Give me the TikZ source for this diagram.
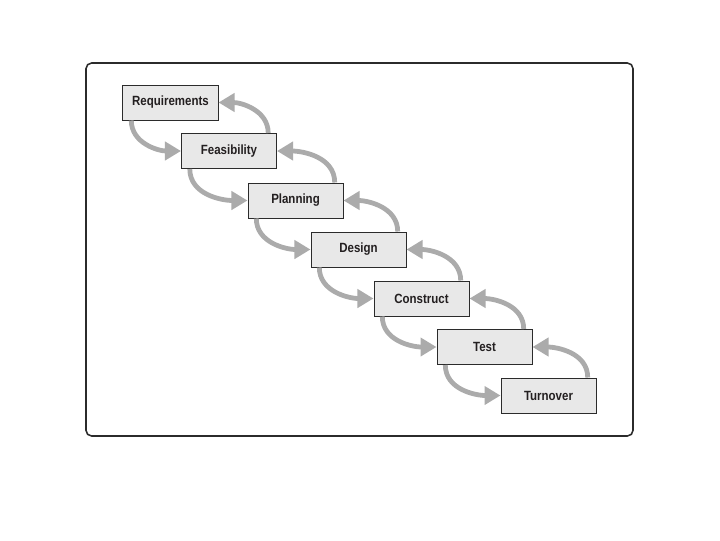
\documentclass[tikz,border=0pt]{standalone}
\usepackage{fontspec}
\newfontfamily\stagefont[FakeStretch=0.86]{Liberation Sans}
\usetikzlibrary{arrows.meta}
\definecolor{boxfill}{HTML}{E8E8E8}
\definecolor{boxline}{HTML}{2B2B2B}
\definecolor{loopgray}{HTML}{ABABAB}
\definecolor{inkdark}{HTML}{231F20}

\begin{document}
\begin{tikzpicture}[
  x=0.025cm, y=-0.025cm,
  font=\stagefont\bfseries\fontsize{9.5}{11}\selectfont,
  stage/.style={draw=boxline,line width=0.7pt,fill=boxfill,text=inkdark,
    minimum width=2.375cm,minimum height=0.875cm,inner sep=0pt},
  fwd/.style={loopgray,line width=3.4pt,-{Triangle[length=0.4cm,width=0.45cm]}},
  back/.style={loopgray,line width=3.4pt,-{Triangle[length=0.4cm,width=0.45cm]}},
]
\useasboundingbox (0,0) rectangle (720,540);

% ============ outer frame ============
\draw[boxline,line width=1.1pt,rounded corners=4pt] (86,63) rectangle (633,436);

% ============ stages ============
\node[stage] (req) at (170.5,102.5) {Requirements};
\node[stage] (feas) at (229,151) {Feasibility};
\node[stage] (plan) at (295.5,200.5) {Planning};
\node[stage] (des) at (358.5,249.5) {Design};
\node[stage] (cons) at (421.5,298.5) {Construct};
\node[stage] (test) at (484.5,347) {Test};
\node[stage] (turn) at (548.5,395.5) {Turnover};

% ============ forward flow ============
\draw[fwd] ([xshift=0.22cm]req.south west) to[out=-90,in=180] (feas.west);
\draw[fwd] ([xshift=0.22cm]feas.south west) to[out=-90,in=180] (plan.west);
\draw[fwd] ([xshift=0.22cm]plan.south west) to[out=-90,in=180] (des.west);
\draw[fwd] ([xshift=0.22cm]des.south west) to[out=-90,in=180] (cons.west);
\draw[fwd] ([xshift=0.22cm]cons.south west) to[out=-90,in=180] (test.west);
\draw[fwd] ([xshift=0.22cm]test.south west) to[out=-90,in=180] (turn.west);

% ============ feedback ============
\draw[back] ([xshift=-0.22cm]feas.north east) to[out=90,in=0] (req.east);
\draw[back] ([xshift=-0.22cm]plan.north east) to[out=90,in=0] (feas.east);
\draw[back] ([xshift=-0.22cm]des.north east) to[out=90,in=0] (plan.east);
\draw[back] ([xshift=-0.22cm]cons.north east) to[out=90,in=0] (des.east);
\draw[back] ([xshift=-0.22cm]test.north east) to[out=90,in=0] (cons.east);
\draw[back] ([xshift=-0.22cm]turn.north east) to[out=90,in=0] (test.east);

\end{tikzpicture}
\end{document}
